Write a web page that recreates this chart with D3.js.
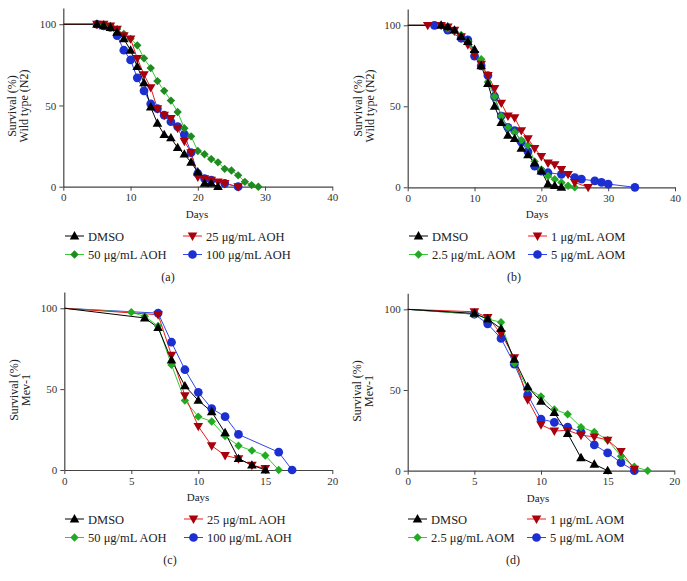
<!DOCTYPE html>
<html><head><meta charset="utf-8">
<script src="https://cdn.jsdelivr.net/npm/d3@7"></script>
<style>body{margin:0;background:#fff}svg{display:block}svg text{font-family:"Liberation Serif","DejaVu Serif",serif !important}</style>
</head><body><svg id="c" width="687" height="581"></svg>
<script>
// ---- DATA: [day, survival %] ----
const aDMSO = [[0,100],[5,100],[6,99],[7,98],[8,95],[9,91],[10,84],[11,74],[12,64],[13,49],[14,39],[15,32],[16,30],[17,24],[18,20],[19,15],[20,9],[21,2],[22,2],[23,0]];
const a25 = [[0,100],[5,100],[6,100],[7,99],[8,97],[9,93],[10,91],[11,79],[12,69],[13,61],[14,48],[15,44],[16,42],[17,36],[18,28],[19,21],[20,6],[21,5],[22,4],[23,3],[24,2],[26,0]];
const a50 = [[0,100],[5,100],[6,100],[7,99],[8,97],[9,94],[10,91],[11,87],[12,79],[13,73],[14,65],[15,59],[16,53],[17,46],[18,36],[19,31],[20,22],[21,20],[22,17],[23,15],[24,11],[25,10],[26,7],[27,3],[28,1],[29,0]];
const a100 = [[0,100],[5,100],[6,99],[7,98],[8,93],[9,84],[10,78],[11,67],[12,59],[13,51],[14,48],[15,44],[16,40],[17,37],[18,32],[19,21],[20,8],[21,5],[22,4],[24,2],[26,0]];

const bDMSO = [[0,100],[5,100],[6,99],[7,97],[8,93],[9,90],[10,85],[11,75],[12,64],[13,50],[14,40],[15,32],[16,30],[17,24],[18,20],[19,15],[20,10],[21,2],[22,1],[23,0]];
const b1 = [[0,100],[3,100],[5,100],[6,99],[7,97],[8,93],[9,88],[10,82],[11,76],[12,69],[13,61],[14,52],[15,44],[16,43],[17,35],[18,30],[19,24],[20,19],[21,15],[22,14],[23,11],[24,8],[25,3],[27,0]];
const b25 = [[0,100],[5,100],[6,98],[7,96],[8,94],[9,90],[10,83],[11,79],[12,65],[13,56],[14,44],[15,37],[16,34],[17,29],[18,26],[19,16],[20,11],[21,7],[22,5],[23,3],[24,1],[25,0]];
const b5 = [[0,100],[4,100],[6,97],[8,92],[9,91],[10,81],[11,75],[12,69],[13,56],[14,44],[15,37],[16,35],[17,28],[18,22],[19,13],[20,10],[21,9],[23,8],[25,6],[26,5],[28,4],[29,3],[30,2],[34,0]];

const cDMSO = [[0,100],[6,94],[7,88],[8,68],[9,52],[10,43],[11,36],[12,23],[13,7],[14,3],[15,0]];
const c25 = [[0,100],[7,96],[8,71],[9,46],[10,27],[11,15],[12,9],[13,7],[14,3],[15,1]];
const c50 = [[0,100],[5,97.5],[6,95],[7,89],[8,65],[9,43],[10,33],[11,30],[12,21],[13,15],[14,12],[15,9],[16,0]];
const c100 = [[0,100],[7,97],[8,79],[9,62],[10,48],[11,38],[12,33],[13,22],[16,11],[17,0]];

const dDMSO = [[0,100],[5,97.5],[6,94],[7,88],[8,69],[9,52],[10,43],[11,36],[12,23],[13,8],[14,4],[15,0]];
const d1 = [[0,100],[5,98.5],[6,95],[7,85],[8,70],[9,44],[10,28.5],[11,24.6],[12,25],[13,22],[14,21],[15,19],[16,12],[17,1]];
const d25 = [[0,100],[5,97],[6,94],[7,92],[8,66.5],[9,51],[10,46],[11,38],[12,35],[13,27],[14,24],[15,19],[16,9],[17,2.5],[18,0]];
const d5 = [[0,100],[5,97],[6,91],[7,82],[8,66],[9,47],[10,32],[11,30],[12,27],[13,24],[14,16],[15,11],[16,5],[17,0]];

const labelsAOH = ["DMSO","25 μg/mL AOH","50 μg/mL AOH","100 μg/mL AOH"];
const labelsAOM = ["DMSO","1 μg/mL AOM","2.5 μg/mL AOM","5 μg/mL AOM"];
const xTicks40 = [0,10,20,30,40];
const xTicks20 = [0,5,10,15,20];
const yTicks = [0,50,100];

// ---- STYLE ----
const FONT = "Liberation Serif, DejaVu Serif, serif";
const svg = d3.select("#c");
const styles = [
  {shape:"tri", fill:"#000", line:"#000"},
  {shape:"dtri", fill:"#a8000c", line:"#ee1c1c"},
  {shape:"dia", fill:"#1f8a1f", line:"#33cc33"},
  {shape:"circ", fill:"#1c2fd0", line:"#2f45ee"}
];
function markerPath(shape){
  if(shape==="tri") return "M0,-5L4.8,3.4L-4.8,3.4Z";
  if(shape==="dtri") return "M0,5L4.8,-3.4L-4.8,-3.4Z";
  if(shape==="dia") return "M0,-4.2L4.2,0L0,4.2L-4.2,0Z";
  return d3.symbol(d3.symbolCircle, 60)();
}

function panel(o){
  const x = d3.scaleLinear().domain([0,o.xmax]).range([o.x0,o.x1]);
  const y = d3.scaleLinear().domain([0,110]).range([o.y0,o.ytop]);
  const g = svg.append("g").attr("font-family",FONT);
  const xa = g.append("g").attr("transform",`translate(0,${o.y0})`)
    .call(d3.axisBottom(x).tickValues(o.xticks).tickSize(4).tickPadding(3).tickSizeOuter(0));
  const ya = g.append("g").attr("transform",`translate(${o.x0},0)`)
    .call(d3.axisLeft(y).tickValues(yTicks).tickSize(4).tickPadding(3).tickSizeOuter(0));
  [xa,ya].forEach(a=>{
    a.attr("font-family",FONT).attr("font-size",11);
    a.select(".domain").attr("stroke","#444").attr("stroke-width",1.2);
    a.selectAll(".tick line").attr("stroke","#444");
    a.selectAll(".tick text").attr("fill","#333");
  });
  const line = d3.line().x(d=>x(d[0])).y(d=>y(d[1]));
  const order = [3,2,1,0];
  order.forEach(i=>{
    const s = styles[i], data = o.series[i];
    g.append("path").datum(data).attr("d",line).attr("fill","none").attr("stroke",s.line).attr("stroke-width",1);
  });
  order.forEach(i=>{
    const s = styles[i], data = o.series[i];
    g.selectAll(null).data(data.filter(d=>d[0]>0)).enter().append("path")
      .attr("d",markerPath(s.shape)).attr("transform",d=>`translate(${x(d[0])},${y(d[1])})`)
      .attr("fill", (o.fills && o.fills[i]) || s.fill);
  });
  g.append("text").attr("x",o.daysX).attr("y",o.y0+31).attr("text-anchor","middle").attr("font-size",11).attr("fill","#222").text("Days");
  const yc = o.ylabY;
  g.append("text").attr("transform",`translate(${o.yl1},${yc}) rotate(-90)`).attr("text-anchor","middle").attr("font-size",12).attr("fill","#222").text("Survival (%)");
  g.append("text").attr("transform",`translate(${o.yl2},${yc}) rotate(-90)`).attr("text-anchor","middle").attr("font-size",12).attr("fill","#222").text(o.ylab2);
  const pos = [[0,0],[1,0],[0,1],[1,1]];
  o.labels.forEach((lab,i)=>{
    const s = styles[i];
    const lx = pos[i][0] ? o.lgx2 : o.lgx1;
    const ly = o.lgy + pos[i][1]*18.5;
    g.append("line").attr("x1",lx).attr("x2",lx+19).attr("y1",ly).attr("y2",ly).attr("stroke",s.line).attr("stroke-width",1);
    g.append("path").attr("d",markerPath(s.shape)).attr("transform",`translate(${lx+9.5},${ly})`).attr("fill",(o.fills && o.fills[i]) || s.fill);
    g.append("text").attr("x",lx+23).attr("y",ly+4.5).attr("font-size",12.5).attr("fill","#222").text(lab);
  });
  g.append("text").attr("x",o.capX).attr("y",o.capY).attr("text-anchor","middle").attr("font-size",12).attr("fill","#222").text(o.cap);
}

panel({x0:63.3,x1:332.3,y0:186.7,ytop:8,xmax:40,xticks:xTicks40,series:[aDMSO,a25,a50,a100],labels:labelsAOH,
  daysX:197,ylabY:106,yl1:16,yl2:28,ylab2:"Wild type (N2)",lgx1:65,lgx2:183,lgy:236,capX:168,capY:281,cap:"(a)"});
panel({x0:407.7,x1:675,y0:187.3,ytop:9.1,xmax:40,xticks:xTicks40,series:[bDMSO,b1,b25,b5],labels:labelsAOM,
  fills:[null,null,"#22aa22",null],
  daysX:537,ylabY:106,yl1:362,yl2:374,ylab2:"Wild type (N2)",lgx1:409,lgx2:528,lgy:236,capX:514,capY:281,cap:"(b)"});
panel({x0:64.3,x1:332.3,y0:470,ytop:292.1,xmax:20,xticks:xTicks20,series:[cDMSO,c25,c50,c100],labels:labelsAOH,
  fills:[null,null,"#22aa22",null],
  daysX:198,ylabY:390,yl1:18,yl2:30,ylab2:"Mev-1",lgx1:65,lgx2:184,lgy:519,capX:170,capY:564,cap:"(c)"});
panel({x0:407.7,x1:674.3,y0:470.7,ytop:293.2,xmax:20,xticks:xTicks20,series:[dDMSO,d1,d25,d5],labels:labelsAOM,
  fills:[null,null,"#22aa22",null],
  daysX:538,ylabY:391,yl1:361,yl2:373,ylab2:"Mev-1",lgx1:408,lgx2:527,lgy:519,capX:513,capY:564,cap:"(d)"});
</script></body></html>
